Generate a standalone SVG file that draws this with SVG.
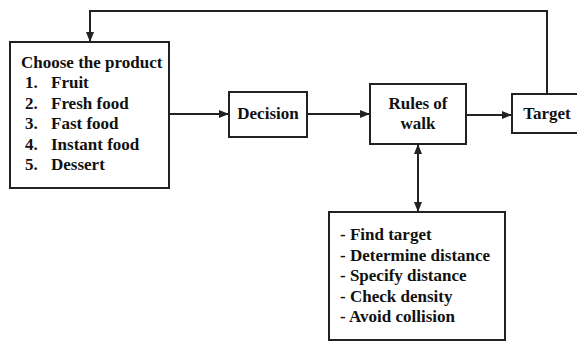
<svg xmlns="http://www.w3.org/2000/svg" width="577" height="341" viewBox="0 0 577 341">
<style>
.box{fill:#fff;stroke:#222;stroke-width:2}
.ln{fill:none;stroke:#222;stroke-width:2}
.t{font-family:"Liberation Serif","Times New Roman",serif;font-weight:bold;font-size:17px;fill:#111}
.c{text-anchor:middle}
</style>
<defs>
<marker id="ah" viewBox="0 0 10 10" refX="10" refY="5" markerWidth="10" markerHeight="10" markerUnits="userSpaceOnUse" orient="auto-start-reverse">
<path d="M0,1 L10,5 L0,9 z" fill="#222"/>
</marker>
</defs>
<g id="connectors">
<path class="ln" d="M547,94 V11 H90 V42" marker-end="url(#ah)"/>
<path class="ln" d="M169,114 H229" marker-end="url(#ah)"/>
<path class="ln" d="M307,114 H370" marker-end="url(#ah)"/>
<path class="ln" d="M466,115 H512" marker-end="url(#ah)"/>
<path class="ln" d="M418,144 V212" marker-start="url(#ah)" marker-end="url(#ah)"/>
</g>
<g id="choose">
<rect class="box" x="10" y="42" width="159" height="146"/>
<text class="t" x="21" y="68">Choose the product</text>
<text class="t" x="25" y="88">1.</text><text class="t" x="51" y="88">Fruit</text>
<text class="t" x="25" y="109">2.</text><text class="t" x="51" y="109">Fresh food</text>
<text class="t" x="25" y="129">3.</text><text class="t" x="51" y="129">Fast food</text>
<text class="t" x="25" y="150">4.</text><text class="t" x="51" y="150">Instant food</text>
<text class="t" x="25" y="170">5.</text><text class="t" x="51" y="170">Dessert</text>
</g>
<g id="decision">
<rect class="box" x="229" y="92" width="78" height="45"/>
<text class="t c" x="268" y="119">Decision</text>
</g>
<g id="rules">
<rect class="box" x="370" y="84" width="96" height="60"/>
<text class="t c" x="418" y="109">Rules of</text>
<text class="t c" x="418" y="129">walk</text>
</g>
<g id="target">
<rect class="box" x="512" y="94" width="70" height="39"/>
<text class="t c" x="547" y="119">Target</text>
</g>
<g id="walkrules">
<rect class="box" x="329" y="212" width="176" height="128"/>
<text class="t" x="340" y="240">- Find target</text>
<text class="t" x="340" y="261">- Determine distance</text>
<text class="t" x="340" y="281">- Specify distance</text>
<text class="t" x="340" y="302">- Check density</text>
<text class="t" x="340" y="322">- Avoid collision</text>
</g>
</svg>
